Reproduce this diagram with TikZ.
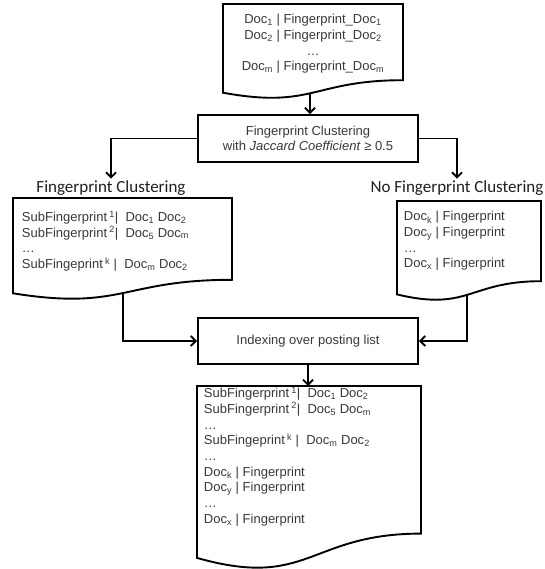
\documentclass[tikz,border=0pt]{standalone}
\usepackage{fontspec}
\setmainfont{Liberation Sans}
\newfontfamily\calib{Carlito}
\usetikzlibrary{arrows.meta}
\begin{document}
\begin{tikzpicture}[x=1pt,y=-1pt,
  line width=1.9pt,
  txt/.style={inner sep=0pt, text=black!78, font=\fontsize{13}{15.7}\selectfont},
  boxn/.style={draw, line width=1.9pt, minimum width=220pt, text=black!78, font=\fontsize{13}{15.5}\selectfont, align=center},
  lbl/.style={inner sep=1pt, font=\calib\fontsize{17}{20}\selectfont, text=black!88},
  docshape/.style={draw, line width=1.9pt},
  arr/.style={-{Straight Barb[length=5pt,width=10pt]}, line width=1.9pt}
]
\useasboundingbox (0,0) rectangle (544,569);

% document shapes
\draw[docshape] (223,4) -- (403,4) -- (403,80.2) .. controls (313,80.2) and (313,109.2) .. (223,92.7) -- cycle;
\draw[docshape] (13,198) -- (232,198) -- (232,279.8) .. controls (122.5,279.8) and (122.5,310.9) .. (13,293.3) -- cycle;
\draw[docshape] (397,201) -- (541,201) -- (541,281.2) .. controls (469,281.2) and (469,311.7) .. (397,294.4) -- cycle;
\draw[docshape] (197,386) -- (421,386) -- (421,533.6) .. controls (309,533.6) and (309,589.7) .. (197,557.9) -- cycle;

% texts in documents
\node[txt, align=center] (tdoc) at (313,44) {Doc\textsubscript{1} | Fingerprint\_Doc\textsubscript{1}\\ Doc\textsubscript{2} | Fingerprint\_Doc\textsubscript{2}\\ \ldots\\ Doc\textsubscript{m} | Fingerprint\_Doc\textsubscript{m}};

\node[txt, anchor=west, align=left] (ldoc) at (21,241) {SubFingerprint\,\textsuperscript{1}|~~Doc\textsubscript{1} Doc\textsubscript{2}\\ SubFingerprint\,\textsuperscript{2}|~~Doc\textsubscript{5} Doc\textsubscript{m}\\ \ldots\\ SubFingeprint\,\textsuperscript{k}~|~~Doc\textsubscript{m} Doc\textsubscript{2}};

\node[txt, anchor=west, align=left] (rdoc) at (403,241) {Doc\textsubscript{k} | Fingerprint\\ Doc\textsubscript{y} | Fingerprint\\ \ldots\\ Doc\textsubscript{x} | Fingerprint};

\node[txt, anchor=west, align=left] (bdoc) at (203,456.5) {SubFingerprint\,\textsuperscript{1}|~~Doc\textsubscript{1} Doc\textsubscript{2}\\ SubFingerprint\,\textsuperscript{2}|~~Doc\textsubscript{5} Doc\textsubscript{m}\\ \ldots\\ SubFingeprint\,\textsuperscript{k}~|~~Doc\textsubscript{m} Doc\textsubscript{2}\\ \ldots\\ Doc\textsubscript{k} | Fingerprint\\ Doc\textsubscript{y} | Fingerprint\\ \ldots\\ Doc\textsubscript{x} | Fingerprint};

% process boxes
\node[boxn, minimum height=47pt] (clbox) at (308,138.5) {Fingerprint Clustering\\ with \textit{Jaccard Coefficient} ≥ 0.5};
\node[boxn, minimum height=46pt] (ibox) at (308,341) {Indexing over posting list};

% labels
\node[lbl] (lblL) at (111,188) {Fingerprint Clustering};
\node[lbl] (lblR) at (457,188) {No Fingerprint Clustering};

% connector end points on the wavy edges
\coordinate (tdocB) at (310,92.6);
\coordinate (ldocB) at (123,293);
\coordinate (rdocB) at (467,294);
\coordinate (bdocT) at (308,386);

% connectors
\draw[arr] (tdocB) -- (tdocB |- clbox.north);
\draw[arr] (clbox.west) -| (lblL.north);
\draw[arr] (clbox.east) -| (lblR.north);
\draw[arr] (ldocB) |- (ibox.west);
\draw[arr] (rdocB) |- (ibox.east);
\draw[arr] (ibox.south) -- (bdocT);
\end{tikzpicture}
\end{document}
